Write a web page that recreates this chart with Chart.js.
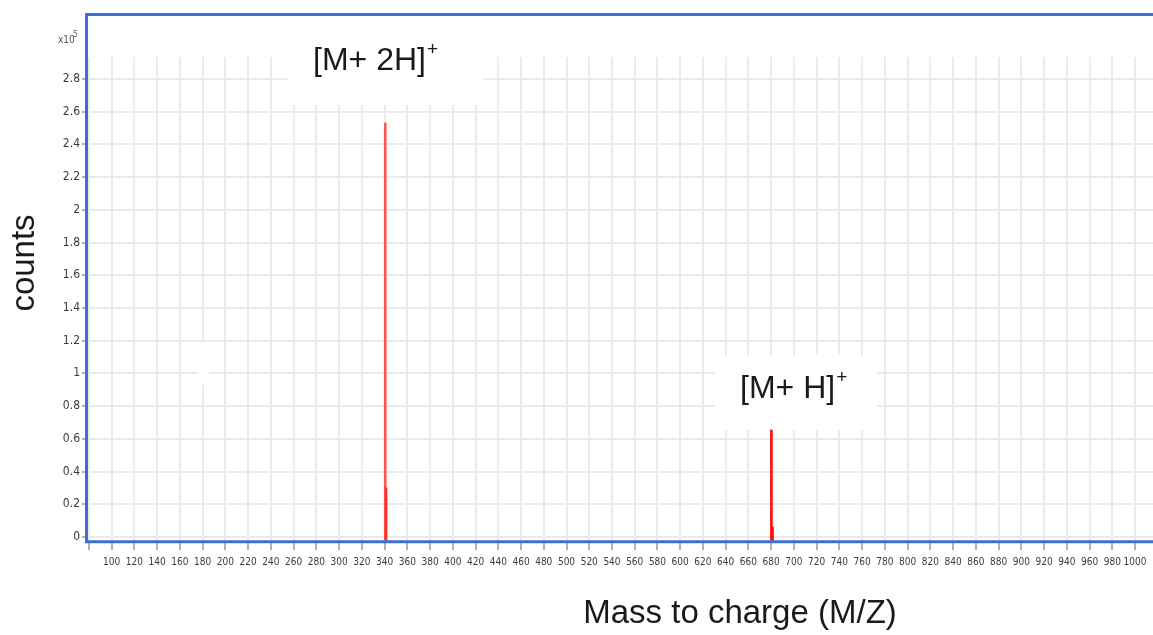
<!DOCTYPE html>
<html>
<head>
<meta charset="utf-8">
<script src="https://cdn.jsdelivr.net/npm/chart.js@4/dist/chart.umd.min.js"></script>
<style>
  html, body { margin: 0; padding: 0; background: #fff; }
  canvas { display: block; }
</style>
</head>
<body>
<canvas id="spectrum" width="1153" height="635"></canvas>
<script>
// Peak list: m/z of each stick and its intensity (in units of 10^5 counts)
const peakMz     = [340.6, 341.3, 680.2, 681.2];
const peakCounts = [2.53, 0.30, 0.654, 0.06];

// Axis tick values
const yTickValues = [0, 0.2, 0.4, 0.6, 0.8, 1, 1.2, 1.4, 1.6, 1.8, 2, 2.2, 2.4, 2.6, 2.8];
const xTickValues = [80, 100, 120, 140, 160, 180, 200, 220, 240, 260, 280, 300, 320, 340, 360,
  380, 400, 420, 440, 460, 480, 500, 520, 540, 560, 580, 600, 620, 640, 660, 680, 700, 720,
  740, 760, 780, 800, 820, 840, 860, 880, 900, 920, 940, 960, 980, 1000];

// Ion assignments
const ionLabels = ['[M+ 2H]', '[M+ H]'];

const NARROW = "'Liberation Sans Narrow', 'DejaVu Sans Condensed', 'Liberation Sans', sans-serif";
const SANS = "'Liberation Sans', Arial, sans-serif";

// Frame, axis titles, exponent marker and ion labels
const decorations = {
  id: 'decorations',
  beforeDatasetsDraw(chart) {
    const ctx = chart.ctx;
    ctx.save();
    ctx.fillStyle = '#ffffff';
    ctx.fillRect(288, 40, 195, 65);   // backdrop of first ion label
    ctx.fillRect(715, 355, 162, 75);  // backdrop of second ion label
    ctx.fillRect(198, 343, 11, 42);
    ctx.restore();
  },
  afterDraw(chart) {
    const ctx = chart.ctx;
    ctx.save();

    // blue plot frame
    ctx.strokeStyle = '#3b6fd2';
    ctx.lineWidth = 3;
    ctx.beginPath();
    ctx.moveTo(1160, 14.5);
    ctx.lineTo(86.5, 14.5);
    ctx.lineTo(86.5, 541.8);
    ctx.lineTo(1160, 541.8);
    ctx.stroke();

    // exponent marker
    ctx.fillStyle = '#555';
    ctx.textBaseline = 'alphabetic';
    ctx.textAlign = 'left';
    ctx.font = '10px ' + NARROW;
    ctx.fillText('x10', 58, 43);
    ctx.font = '8px ' + NARROW;
    ctx.fillText('5', 73, 37);

    // axis titles
    ctx.fillStyle = '#1a1a1a';
    ctx.font = '33px ' + SANS;
    ctx.textAlign = 'center';
    ctx.fillText('Mass to charge (M/Z)', 740, 623);
    ctx.save();
    ctx.translate(34, 263);
    ctx.rotate(-Math.PI / 2);
    ctx.fillText('counts', 0, 0);
    ctx.restore();

    // ion labels with superscript charge
    ctx.textAlign = 'left';
    const spots = [[313, 70], [740, 398]];
    ionLabels.forEach((t, i) => {
      const [lx, by] = spots[i];
      ctx.font = '32px ' + SANS;
      ctx.fillText(t, lx, by);
      const w = ctx.measureText(t).width;
      ctx.font = '19px ' + SANS;
      ctx.fillText('+', lx + w + 1, by - 15);
    });

    ctx.restore();
  }
};

new Chart(document.getElementById('spectrum'), {
  type: 'bar',
  data: {
    datasets: [{
      data: peakMz.map((x, i) => ({ x: x, y: peakCounts[i] })),
      backgroundColor: ['#ff5454', '#ff3030', '#ff1010', '#ff1010'],
      borderWidth: 0,
      barThickness: 2,
      base: -0.02
    }]
  },
  options: {
    responsive: false,
    animation: false,
    devicePixelRatio: 1,
    layout: { padding: { top: 57, left: 0, right: 0, bottom: 0 } },
    plugins: { legend: { display: false }, tooltip: { enabled: false } },
    scales: {
      x: {
        type: 'linear',
        min: 78.3,
        max: 1015.8,
        offset: false,
        afterBuildTicks: s => { s.ticks = xTickValues.map(v => ({ value: v })); },
        afterFit: s => { s.height = 92; },
        border: { display: false },
        grid: { offset: false, color: '#ebebeb', lineWidth: 2, drawTicks: true, tickLength: 7, tickColor: '#666', tickWidth: 1 },
        ticks: {
          autoSkip: false, maxRotation: 0, minRotation: 0, padding: 6,
          color: '#3a3a3a', font: { family: NARROW, size: 10 },
          callback: v => (v < 100 ? '' : String(v))
        }
      },
      y: {
        type: 'linear',
        min: -0.037,
        max: 2.934,
        afterBuildTicks: s => { s.ticks = yTickValues.map(v => ({ value: v })); },
        afterFit: s => { s.width = 87; },
        border: { display: false },
        grid: { color: '#ebebeb', lineWidth: 2, drawTicks: true, tickLength: 5, tickColor: '#666', tickWidth: 1 },
        ticks: {
          padding: 2, color: '#3a3a3a', font: { family: NARROW, size: 12 },
          callback: v => String(Math.round(v * 10) / 10)
        }
      }
    }
  },
  plugins: [decorations]
});
</script>
</body>
</html>
